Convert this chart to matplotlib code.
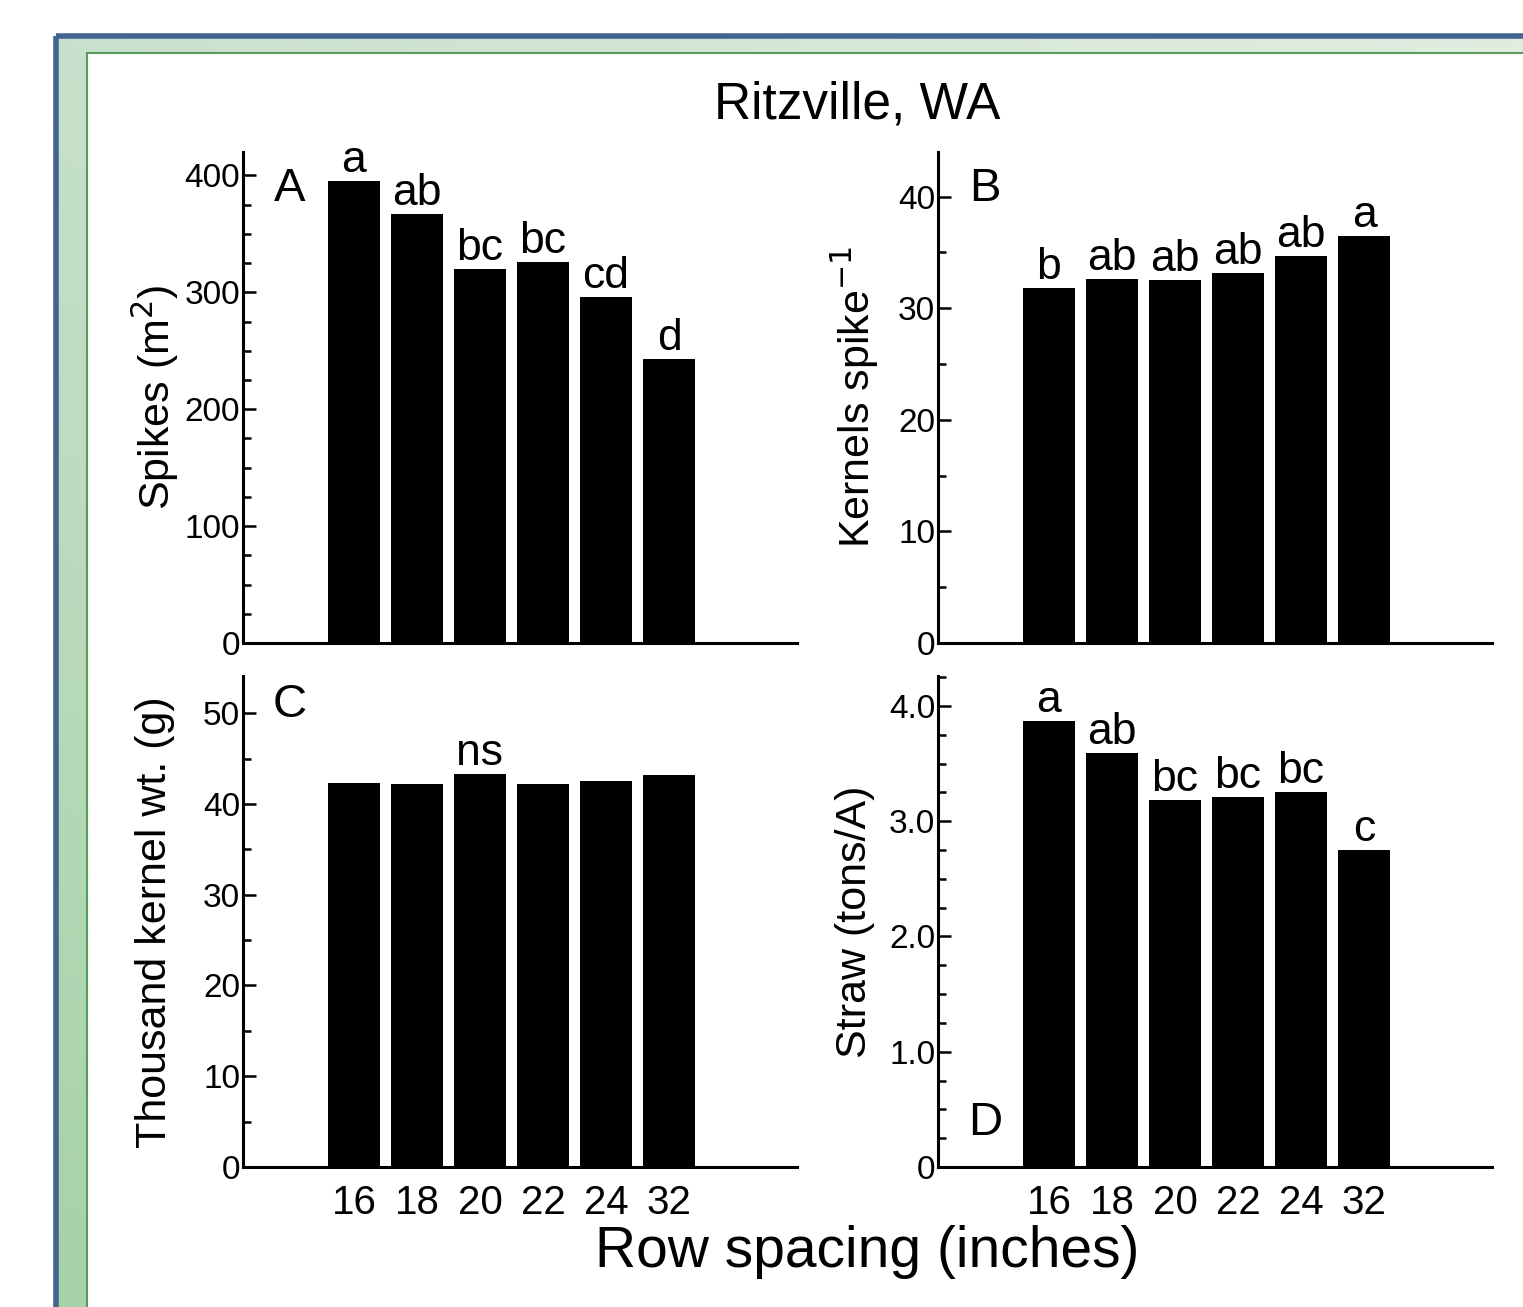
import numpy as np
import matplotlib
matplotlib.use("Agg")
import matplotlib.pyplot as plt
from matplotlib.patches import Rectangle
from matplotlib.ticker import MultipleLocator

plt.rcParams['font.family'] = ['Liberation Sans', 'DejaVu Sans']

# data
spacing = ['16', '18', '20', '22', '24', '32']
spikes = [395, 367, 320, 326, 296, 243]
spikes_lbl = ['a', 'ab', 'bc', 'bc', 'cd', 'd']
kernels = [31.8, 32.6, 32.5, 33.2, 34.7, 36.5]
kernels_lbl = ['b', 'ab', 'ab', 'ab', 'ab', 'a']
tkw = [42.3, 42.2, 43.3, 42.2, 42.5, 43.2]
tkw_lbl = ['', '', 'ns', '', '', '']
straw = [3.87, 3.59, 3.18, 3.21, 3.25, 2.75]
straw_lbl = ['a', 'ab', 'bc', 'bc', 'bc', 'c']

W, H = 1523, 1307
fig = plt.figure(figsize=(W / 100, H / 100), dpi=100)


def fx(px):
    return px / W


def fy(py):
    return 1 - py / H


# background frame: blue border, green gradient band, white inner panel
bg = fig.add_axes([0, 0, 1, 1], zorder=-10)
bg.set_xlim(0, W)
bg.set_ylim(H, 0)
bg.axis('off')
yy, xx = np.mgrid[0:1:200j, 0:1:200j]
c_tl = np.array([200, 225, 204]) / 255
c_bl = np.array([166, 210, 168]) / 255
c_tr = np.array([226, 237, 226]) / 255
grad = c_tl + yy[..., None] * (c_bl - c_tl) + xx[..., None] * (c_tr - c_tl)
bg.imshow(np.clip(grad, 0, 1), extent=[56, W, H, 36], aspect='auto', zorder=0)
bg.add_patch(Rectangle((56, 36), W + 20, H, fill=False, ec='#43648f', lw=4, zorder=2))
bg.add_patch(Rectangle((87, 53), W, H, fc='white', ec='#5b9a5b', lw=1.5, zorder=1))


def panel(rect, vals, lbls, ymax, major, minor, letter, letter_y, show_x, fmt=None):
    l, r, t, b = rect
    ax = fig.add_axes([fx(l), fy(b), fx(r) - fx(l), fy(t) - fy(b)])
    x = np.arange(len(vals))
    ax.bar(x, vals, width=0.83, color='black')
    for xi, v, s in zip(x, vals, lbls):
        if s:
            ax.annotate(s, (xi, v), xytext=(0, 0), textcoords='offset points',
                        ha='center', va='bottom', fontsize=32)
    ax.set_xlim(-1.76, 7.03)
    ax.set_ylim(0, ymax)
    for s in ['top', 'right']:
        ax.spines[s].set_visible(False)
    for s in ['left', 'bottom']:
        ax.spines[s].set_linewidth(2.2)
    ax.yaxis.set_major_locator(MultipleLocator(major))
    ax.yaxis.set_minor_locator(MultipleLocator(minor))
    if fmt:
        ax.yaxis.set_major_formatter(fmt)
    ax.tick_params(axis='y', which='major', direction='in', length=9, width=1.8,
                   labelsize=24, pad=2)
    ax.tick_params(axis='y', which='minor', direction='in', length=6, width=1.8)
    ax.set_xticks(x)
    if show_x:
        ax.set_xticklabels(spacing)
        ax.tick_params(axis='x', length=0, labelsize=29, pad=12)
    else:
        ax.tick_params(axis='x', length=0, labelbottom=False)
    ax.text(0.085, letter_y, letter, transform=ax.transAxes, fontsize=34,
            ha='center', va='center')
    return ax


def straw_fmt(v, pos):
    return '0' if v == 0 else f'{v:.1f}'


axA = panel((243, 797, 152, 643), spikes, spikes_lbl, 420, 100, 25, 'A', 0.925, False)
axB = panel((938, 1492, 152, 643), kernels, kernels_lbl, 44, 10, 5, 'B', 0.925, False)
axC = panel((243, 797, 676, 1167), tkw, tkw_lbl, 54.1, 10, 5, 'C', 0.94, True)
axD = panel((938, 1492, 676, 1167), straw, straw_lbl, 4.26, 1.0, 0.25, 'D', 0.09, True,
            fmt=plt.FuncFormatter(straw_fmt))

fig.text(fx(155), fy(397), 'Spikes (m$^2$)', rotation=90, ha='center', va='center', fontsize=31)
fig.text(fx(855), fy(397), 'Kernels spike$^{-1}$', rotation=90, ha='center', va='center', fontsize=31)
fig.text(fx(155), fy(922), 'Thousand kernel wt. (g)', rotation=90, ha='center', va='center', fontsize=31)
fig.text(fx(855), fy(922), 'Straw (tons/A)', rotation=90, ha='center', va='center', fontsize=31)

fig.text(fx(857), fy(105), 'Ritzville, WA', ha='center', va='center', fontsize=37)
fig.text(fx(867), fy(1252), 'Row spacing (inches)', ha='center', va='center', fontsize=41)

fig.savefig('out.png', dpi=100)
